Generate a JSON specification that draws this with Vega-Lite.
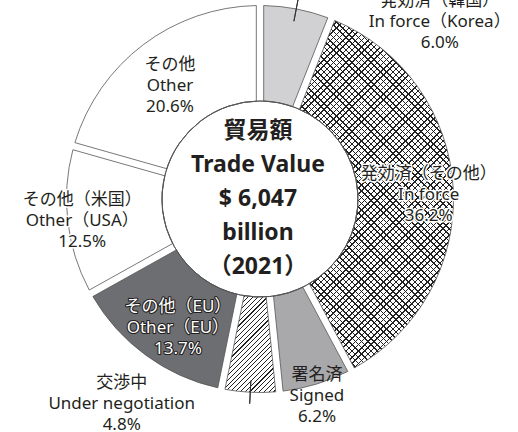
{
"$schema": "https://vega.github.io/schema/vega-lite/v6.json",
"width": 520, "height": 398, "padding": {"left": 0, "top": 0, "right": 0, "bottom": 34}, "autosize": {"type": "none"},
"background": "white",
"config": {"view": {"stroke": null}, "text": {"lineBreak": "\n"}},
"params": [{"name": "gradA", "value": {"gradient": "linear", "x1": 0, "y1": 0, "x2": 0.5347, "y2": 1.2062, "stops": [
{"offset":0,"color":"#222"},{"offset":0.003,"color":"#222"},{"offset":0.003,"color":"transparent"},{"offset":0.0125,"color":"transparent"},
{"offset":0.0125,"color":"#222"},{"offset":0.0155,"color":"#222"},{"offset":0.0155,"color":"transparent"},{"offset":0.025,"color":"transparent"},
{"offset":0.025,"color":"#222"},{"offset":0.028,"color":"#222"},{"offset":0.028,"color":"transparent"},{"offset":0.0375,"color":"transparent"},
{"offset":0.0375,"color":"#222"},{"offset":0.0405,"color":"#222"},{"offset":0.0405,"color":"transparent"},{"offset":0.05,"color":"transparent"},
{"offset":0.05,"color":"#222"},{"offset":0.053,"color":"#222"},{"offset":0.053,"color":"transparent"},{"offset":0.0625,"color":"transparent"},
{"offset":0.0625,"color":"#222"},{"offset":0.0655,"color":"#222"},{"offset":0.0655,"color":"transparent"},{"offset":0.075,"color":"transparent"},
{"offset":0.075,"color":"#222"},{"offset":0.078,"color":"#222"},{"offset":0.078,"color":"transparent"},{"offset":0.0875,"color":"transparent"},
{"offset":0.0875,"color":"#222"},{"offset":0.0905,"color":"#222"},{"offset":0.0905,"color":"transparent"},{"offset":0.1,"color":"transparent"},
{"offset":0.1,"color":"#222"},{"offset":0.103,"color":"#222"},{"offset":0.103,"color":"transparent"},{"offset":0.1125,"color":"transparent"},
{"offset":0.1125,"color":"#222"},{"offset":0.1155,"color":"#222"},{"offset":0.1155,"color":"transparent"},{"offset":0.125,"color":"transparent"},
{"offset":0.125,"color":"#222"},{"offset":0.128,"color":"#222"},{"offset":0.128,"color":"transparent"},{"offset":0.1375,"color":"transparent"},
{"offset":0.1375,"color":"#222"},{"offset":0.1405,"color":"#222"},{"offset":0.1405,"color":"transparent"},{"offset":0.15,"color":"transparent"},
{"offset":0.15,"color":"#222"},{"offset":0.153,"color":"#222"},{"offset":0.153,"color":"transparent"},{"offset":0.1625,"color":"transparent"},
{"offset":0.1625,"color":"#222"},{"offset":0.1655,"color":"#222"},{"offset":0.1655,"color":"transparent"},{"offset":0.175,"color":"transparent"},
{"offset":0.175,"color":"#222"},{"offset":0.178,"color":"#222"},{"offset":0.178,"color":"transparent"},{"offset":0.1875,"color":"transparent"},
{"offset":0.1875,"color":"#222"},{"offset":0.1905,"color":"#222"},{"offset":0.1905,"color":"transparent"},{"offset":0.2,"color":"transparent"},
{"offset":0.2,"color":"#222"},{"offset":0.203,"color":"#222"},{"offset":0.203,"color":"transparent"},{"offset":0.2125,"color":"transparent"},
{"offset":0.2125,"color":"#222"},{"offset":0.2155,"color":"#222"},{"offset":0.2155,"color":"transparent"},{"offset":0.225,"color":"transparent"},
{"offset":0.225,"color":"#222"},{"offset":0.228,"color":"#222"},{"offset":0.228,"color":"transparent"},{"offset":0.2375,"color":"transparent"},
{"offset":0.2375,"color":"#222"},{"offset":0.2405,"color":"#222"},{"offset":0.2405,"color":"transparent"},{"offset":0.25,"color":"transparent"},
{"offset":0.25,"color":"#222"},{"offset":0.253,"color":"#222"},{"offset":0.253,"color":"transparent"},{"offset":0.2625,"color":"transparent"},
{"offset":0.2625,"color":"#222"},{"offset":0.2655,"color":"#222"},{"offset":0.2655,"color":"transparent"},{"offset":0.275,"color":"transparent"},
{"offset":0.275,"color":"#222"},{"offset":0.278,"color":"#222"},{"offset":0.278,"color":"transparent"},{"offset":0.2875,"color":"transparent"},
{"offset":0.2875,"color":"#222"},{"offset":0.2905,"color":"#222"},{"offset":0.2905,"color":"transparent"},{"offset":0.3,"color":"transparent"},
{"offset":0.3,"color":"#222"},{"offset":0.303,"color":"#222"},{"offset":0.303,"color":"transparent"},{"offset":0.3125,"color":"transparent"},
{"offset":0.3125,"color":"#222"},{"offset":0.3155,"color":"#222"},{"offset":0.3155,"color":"transparent"},{"offset":0.325,"color":"transparent"},
{"offset":0.325,"color":"#222"},{"offset":0.328,"color":"#222"},{"offset":0.328,"color":"transparent"},{"offset":0.3375,"color":"transparent"},
{"offset":0.3375,"color":"#222"},{"offset":0.3405,"color":"#222"},{"offset":0.3405,"color":"transparent"},{"offset":0.35,"color":"transparent"},
{"offset":0.35,"color":"#222"},{"offset":0.353,"color":"#222"},{"offset":0.353,"color":"transparent"},{"offset":0.3625,"color":"transparent"},
{"offset":0.3625,"color":"#222"},{"offset":0.3655,"color":"#222"},{"offset":0.3655,"color":"transparent"},{"offset":0.375,"color":"transparent"},
{"offset":0.375,"color":"#222"},{"offset":0.378,"color":"#222"},{"offset":0.378,"color":"transparent"},{"offset":0.3875,"color":"transparent"},
{"offset":0.3875,"color":"#222"},{"offset":0.3905,"color":"#222"},{"offset":0.3905,"color":"transparent"},{"offset":0.4,"color":"transparent"},
{"offset":0.4,"color":"#222"},{"offset":0.403,"color":"#222"},{"offset":0.403,"color":"transparent"},{"offset":0.4125,"color":"transparent"},
{"offset":0.4125,"color":"#222"},{"offset":0.4155,"color":"#222"},{"offset":0.4155,"color":"transparent"},{"offset":0.425,"color":"transparent"},
{"offset":0.425,"color":"#222"},{"offset":0.428,"color":"#222"},{"offset":0.428,"color":"transparent"},{"offset":0.4375,"color":"transparent"},
{"offset":0.4375,"color":"#222"},{"offset":0.4405,"color":"#222"},{"offset":0.4405,"color":"transparent"},{"offset":0.45,"color":"transparent"},
{"offset":0.45,"color":"#222"},{"offset":0.453,"color":"#222"},{"offset":0.453,"color":"transparent"},{"offset":0.4625,"color":"transparent"},
{"offset":0.4625,"color":"#222"},{"offset":0.4655,"color":"#222"},{"offset":0.4655,"color":"transparent"},{"offset":0.475,"color":"transparent"},
{"offset":0.475,"color":"#222"},{"offset":0.478,"color":"#222"},{"offset":0.478,"color":"transparent"},{"offset":0.4875,"color":"transparent"},
{"offset":0.4875,"color":"#222"},{"offset":0.4905,"color":"#222"},{"offset":0.4905,"color":"transparent"},{"offset":0.5,"color":"transparent"},
{"offset":0.5,"color":"#222"},{"offset":0.503,"color":"#222"},{"offset":0.503,"color":"transparent"},{"offset":0.5125,"color":"transparent"},
{"offset":0.5125,"color":"#222"},{"offset":0.5155,"color":"#222"},{"offset":0.5155,"color":"transparent"},{"offset":0.525,"color":"transparent"},
{"offset":0.525,"color":"#222"},{"offset":0.528,"color":"#222"},{"offset":0.528,"color":"transparent"},{"offset":0.5375,"color":"transparent"},
{"offset":0.5375,"color":"#222"},{"offset":0.5405,"color":"#222"},{"offset":0.5405,"color":"transparent"},{"offset":0.55,"color":"transparent"},
{"offset":0.55,"color":"#222"},{"offset":0.553,"color":"#222"},{"offset":0.553,"color":"transparent"},{"offset":0.5625,"color":"transparent"},
{"offset":0.5625,"color":"#222"},{"offset":0.5655,"color":"#222"},{"offset":0.5655,"color":"transparent"},{"offset":0.575,"color":"transparent"},
{"offset":0.575,"color":"#222"},{"offset":0.578,"color":"#222"},{"offset":0.578,"color":"transparent"},{"offset":0.5875,"color":"transparent"},
{"offset":0.5875,"color":"#222"},{"offset":0.5905,"color":"#222"},{"offset":0.5905,"color":"transparent"},{"offset":0.6,"color":"transparent"},
{"offset":0.6,"color":"#222"},{"offset":0.603,"color":"#222"},{"offset":0.603,"color":"transparent"},{"offset":0.6125,"color":"transparent"},
{"offset":0.6125,"color":"#222"},{"offset":0.6155,"color":"#222"},{"offset":0.6155,"color":"transparent"},{"offset":0.625,"color":"transparent"},
{"offset":0.625,"color":"#222"},{"offset":0.628,"color":"#222"},{"offset":0.628,"color":"transparent"},{"offset":0.6375,"color":"transparent"},
{"offset":0.6375,"color":"#222"},{"offset":0.6405,"color":"#222"},{"offset":0.6405,"color":"transparent"},{"offset":0.65,"color":"transparent"},
{"offset":0.65,"color":"#222"},{"offset":0.653,"color":"#222"},{"offset":0.653,"color":"transparent"},{"offset":0.6625,"color":"transparent"},
{"offset":0.6625,"color":"#222"},{"offset":0.6655,"color":"#222"},{"offset":0.6655,"color":"transparent"},{"offset":0.675,"color":"transparent"},
{"offset":0.675,"color":"#222"},{"offset":0.678,"color":"#222"},{"offset":0.678,"color":"transparent"},{"offset":0.6875,"color":"transparent"},
{"offset":0.6875,"color":"#222"},{"offset":0.6905,"color":"#222"},{"offset":0.6905,"color":"transparent"},{"offset":0.7,"color":"transparent"},
{"offset":0.7,"color":"#222"},{"offset":0.703,"color":"#222"},{"offset":0.703,"color":"transparent"},{"offset":0.7125,"color":"transparent"},
{"offset":0.7125,"color":"#222"},{"offset":0.7155,"color":"#222"},{"offset":0.7155,"color":"transparent"},{"offset":0.725,"color":"transparent"},
{"offset":0.725,"color":"#222"},{"offset":0.728,"color":"#222"},{"offset":0.728,"color":"transparent"},{"offset":0.7375,"color":"transparent"},
{"offset":0.7375,"color":"#222"},{"offset":0.7405,"color":"#222"},{"offset":0.7405,"color":"transparent"},{"offset":0.75,"color":"transparent"},
{"offset":0.75,"color":"#222"},{"offset":0.753,"color":"#222"},{"offset":0.753,"color":"transparent"},{"offset":0.7625,"color":"transparent"},
{"offset":0.7625,"color":"#222"},{"offset":0.7655,"color":"#222"},{"offset":0.7655,"color":"transparent"},{"offset":0.775,"color":"transparent"},
{"offset":0.775,"color":"#222"},{"offset":0.778,"color":"#222"},{"offset":0.778,"color":"transparent"},{"offset":0.7875,"color":"transparent"},
{"offset":0.7875,"color":"#222"},{"offset":0.7905,"color":"#222"},{"offset":0.7905,"color":"transparent"},{"offset":0.8,"color":"transparent"},
{"offset":0.8,"color":"#222"},{"offset":0.803,"color":"#222"},{"offset":0.803,"color":"transparent"},{"offset":0.8125,"color":"transparent"},
{"offset":0.8125,"color":"#222"},{"offset":0.8155,"color":"#222"},{"offset":0.8155,"color":"transparent"},{"offset":0.825,"color":"transparent"},
{"offset":0.825,"color":"#222"},{"offset":0.828,"color":"#222"},{"offset":0.828,"color":"transparent"},{"offset":0.8375,"color":"transparent"},
{"offset":0.8375,"color":"#222"},{"offset":0.8405,"color":"#222"},{"offset":0.8405,"color":"transparent"},{"offset":0.85,"color":"transparent"},
{"offset":0.85,"color":"#222"},{"offset":0.853,"color":"#222"},{"offset":0.853,"color":"transparent"},{"offset":0.8625,"color":"transparent"},
{"offset":0.8625,"color":"#222"},{"offset":0.8655,"color":"#222"},{"offset":0.8655,"color":"transparent"},{"offset":0.875,"color":"transparent"},
{"offset":0.875,"color":"#222"},{"offset":0.878,"color":"#222"},{"offset":0.878,"color":"transparent"},{"offset":0.8875,"color":"transparent"},
{"offset":0.8875,"color":"#222"},{"offset":0.8905,"color":"#222"},{"offset":0.8905,"color":"transparent"},{"offset":0.9,"color":"transparent"},
{"offset":0.9,"color":"#222"},{"offset":0.903,"color":"#222"},{"offset":0.903,"color":"transparent"},{"offset":0.9125,"color":"transparent"},
{"offset":0.9125,"color":"#222"},{"offset":0.9155,"color":"#222"},{"offset":0.9155,"color":"transparent"},{"offset":0.925,"color":"transparent"},
{"offset":0.925,"color":"#222"},{"offset":0.928,"color":"#222"},{"offset":0.928,"color":"transparent"},{"offset":0.9375,"color":"transparent"},
{"offset":0.9375,"color":"#222"},{"offset":0.9405,"color":"#222"},{"offset":0.9405,"color":"transparent"},{"offset":0.95,"color":"transparent"},
{"offset":0.95,"color":"#222"},{"offset":0.953,"color":"#222"},{"offset":0.953,"color":"transparent"},{"offset":0.9625,"color":"transparent"},
{"offset":0.9625,"color":"#222"},{"offset":0.9655,"color":"#222"},{"offset":0.9655,"color":"transparent"},{"offset":0.975,"color":"transparent"},
{"offset":0.975,"color":"#222"},{"offset":0.978,"color":"#222"},{"offset":0.978,"color":"transparent"},{"offset":0.9875,"color":"transparent"},
{"offset":0.9875,"color":"#222"},{"offset":0.9905,"color":"#222"},{"offset":0.9905,"color":"transparent"},{"offset":1,"color":"transparent"}
]}}],
"data": {"values": [
{"cat": "korea", "order": 1, "value": 6.0, "label": "発効済（韓国）\nIn force（Korea）\n6.0%"},
{"cat": "inforce", "order": 2, "value": 36.2, "label": "発効済（その他）\nIn force\n36.2%"},
{"cat": "signed", "order": 3, "value": 6.2, "label": "署名済\nSigned\n6.2%"},
{"cat": "nego", "order": 4, "value": 4.8, "label": "交渉中\nUnder negotiation\n4.8%"},
{"cat": "eu", "order": 5, "value": 13.7, "label": "その他（EU）\nOther（EU）\n13.7%"},
{"cat": "usa", "order": 6, "value": 12.5, "label": "その他（米国）\nOther（USA）\n12.5%"},
{"cat": "other", "order": 7, "value": 20.6, "label": "その他\nOther\n20.6%"}
]},
"layer": [
{
"encoding": {
  "theta": {"field": "value", "type": "quantitative", "stack": true},
  "order": {"field": "order", "type": "quantitative"}
},
"layer": [
{"mark": {"type": "arc", "outerRadius": 193.5, "innerRadius": 98, "padAngle": 0.034},
 "encoding": {"fill": {"field": "cat", "type": "nominal", "legend": null,
   "scale": {"domain": ["korea","inforce","signed","nego","eu","usa","other"],
             "range": ["#d1d1d3","#ffffff","#a9a9ab","#ffffff","#6d6e71","#ffffff","#ffffff"]}}}},
{"mark": {"type": "arc", "outerRadius": 193.5, "innerRadius": 98, "padAngle": 0.034},
 "encoding": {"fill": {"condition": [
   {"test": "datum.cat === 'inforce'", "value": {"expr": "gradA"}},
   {"test": "datum.cat === 'nego'", "value": {"expr": "({gradient: 'linear', x1: 0, y1: 0, x2: 1.635, y2: 3.116, stops: gradA.stops})"}}
 ], "value": "transparent"}}},
{"mark": {"type": "arc", "outerRadius": 193.5, "innerRadius": 98, "padAngle": 0.034},
 "encoding": {"fill": {"condition": [
   {"test": "datum.cat === 'inforce'", "value": {"expr": "({gradient: 'linear', x1: 0, y1: 1, x2: 0.5347, y2: -0.2062, stops: gradA.stops})"}}
 ], "value": "transparent"}}},
{"mark": {"type": "arc", "outerRadius": 193.5, "innerRadius": 98, "padAngle": 0.034, "fill": "transparent", "stroke": "#555", "strokeWidth": 0.8}},
{"mark": {"type": "arc", "outerRadius": 98, "innerRadius": 98, "fill": "transparent", "stroke": "#555", "strokeWidth": 0.9}},
{"mark": {"type": "arc", "outerRadius": 216, "innerRadius": 181, "padAngle": 3, "fill": "transparent", "strokeWidth": 1},
 "encoding": {"stroke": {"condition": {"test": "datum.cat === 'korea'", "value": "#333"}, "value": "transparent"}}},
{"mark": {"type": "arc", "outerRadius": 205, "innerRadius": 182, "padAngle": 3, "fill": "transparent", "strokeWidth": 1},
 "encoding": {"stroke": {"condition": {"test": "datum.cat === 'nego'", "value": "#333"}, "value": "transparent"}}},
{"mark": {"type": "text", "radius": 180, "dx": 146, "dy": -21, "font": "'Noto Sans', 'Noto Sans CJK JP', sans-serif", "fontSize": 17, "lineHeight": 21, "baseline": "middle", "align": "center", "color": "#231f20"},
 "encoding": {"text": {"condition": {"test": "datum.cat === 'korea'", "field": "label", "type": "nominal"}, "value": ""}}},
{"mark": {"type": "text", "radius": 163, "dx": 6, "dy": -16, "font": "'Noto Sans', 'Noto Sans CJK JP', sans-serif", "fontSize": 17, "lineHeight": 21, "baseline": "middle", "align": "center", "fill": "white", "stroke": "white", "strokeWidth": 3, "strokeJoin": "round"},
 "encoding": {"text": {"condition": {"test": "datum.cat === 'inforce'", "field": "label", "type": "nominal"}, "value": ""}}},
{"mark": {"type": "text", "radius": 163, "dx": 6, "dy": -16, "font": "'Noto Sans', 'Noto Sans CJK JP', sans-serif", "fontSize": 17, "lineHeight": 21, "baseline": "middle", "align": "center", "color": "#231f20"},
 "encoding": {"text": {"condition": {"test": "datum.cat === 'inforce'", "field": "label", "type": "nominal"}, "value": ""}}},
{"mark": {"type": "text", "radius": 206, "dx": -3, "dy": -21, "font": "'Noto Sans', 'Noto Sans CJK JP', sans-serif", "fontSize": 17, "lineHeight": 21, "baseline": "middle", "align": "center", "color": "#231f20"},
 "encoding": {"text": {"condition": {"test": "datum.cat === 'signed'", "field": "label", "type": "nominal"}, "value": ""}}},
{"mark": {"type": "text", "radius": 205, "dx": -128, "dy": -21, "font": "'Noto Sans', 'Noto Sans CJK JP', sans-serif", "fontSize": 17, "lineHeight": 21, "baseline": "middle", "align": "center", "color": "#231f20"},
 "encoding": {"text": {"condition": {"test": "datum.cat === 'nego'", "field": "label", "type": "nominal"}, "value": ""}}},
{"mark": {"type": "text", "radius": 156, "dx": 10, "dy": -18, "font": "'Noto Sans', 'Noto Sans CJK JP', sans-serif", "fontSize": 17, "lineHeight": 21, "baseline": "middle", "align": "center", "fill": "#231f20", "stroke": "#231f20", "strokeWidth": 2.2, "strokeJoin": "round"},
 "encoding": {"text": {"condition": {"test": "datum.cat === 'eu'", "field": "label", "type": "nominal"}, "value": ""}}},
{"mark": {"type": "text", "radius": 156, "dx": 10, "dy": -18, "font": "'Noto Sans', 'Noto Sans CJK JP', sans-serif", "fontSize": 17, "lineHeight": 21, "baseline": "middle", "align": "center", "color": "white"},
 "encoding": {"text": {"condition": {"test": "datum.cat === 'eu'", "field": "label", "type": "nominal"}, "value": ""}}},
{"mark": {"type": "text", "radius": 180, "dx": 1, "dy": -20, "font": "'Noto Sans', 'Noto Sans CJK JP', sans-serif", "fontSize": 17, "lineHeight": 21, "baseline": "middle", "align": "center", "fill": "white", "stroke": "white", "strokeWidth": 3, "strokeJoin": "round"},
 "encoding": {"text": {"condition": {"test": "datum.cat === 'usa'", "field": "label", "type": "nominal"}, "value": ""}}},
{"mark": {"type": "text", "radius": 180, "dx": 1, "dy": -20, "font": "'Noto Sans', 'Noto Sans CJK JP', sans-serif", "fontSize": 17, "lineHeight": 21, "baseline": "middle", "align": "center", "color": "#231f20"},
 "encoding": {"text": {"condition": {"test": "datum.cat === 'usa'", "field": "label", "type": "nominal"}, "value": ""}}},
{"mark": {"type": "text", "radius": 146, "dx": -2, "dy": -18, "font": "'Noto Sans', 'Noto Sans CJK JP', sans-serif", "fontSize": 17, "lineHeight": 21, "baseline": "middle", "align": "center", "color": "#231f20"},
 "encoding": {"text": {"condition": {"test": "datum.cat === 'other'", "field": "label", "type": "nominal"}, "value": ""}}}
]
},
{
"data": {"values": [{"title": "貿易額\nTrade Value\n$ 6,047\nbillion\n（2021）"}]},
"mark": {"type": "text", "font": "'Noto Sans', 'Noto Sans CJK JP', sans-serif", "fontSize": 23, "fontWeight": "bold", "lineHeight": 34, "baseline": "middle", "align": "center", "dx": -2, "dy": -68, "color": "#231f20"},
"encoding": {"text": {"field": "title", "type": "nominal"}}
}
]
}
